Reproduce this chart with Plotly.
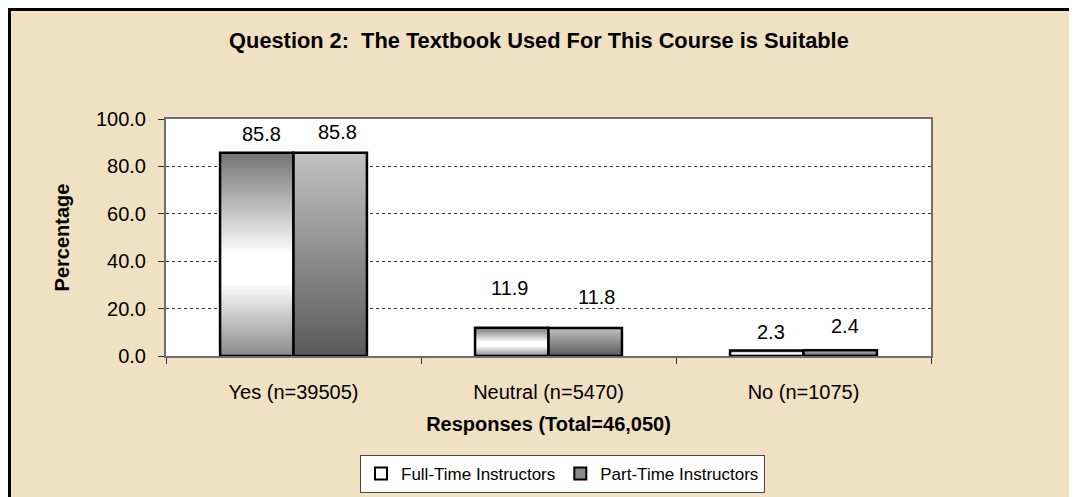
import plotly.graph_objects as go

categories = ["Yes (n=39505)", "Neutral (n=5470)", "No (n=1075)"]
full_time = [85.8, 11.9, 2.3]
part_time = [85.8, 11.8, 2.4]
series_names = ["Full-Time Instructors", "Part-Time Instructors"]
y_ticks = [0, 20, 40, 60, 80, 100]

FONT = "Arial, Liberation Sans, sans-serif"
BG = "#f0e1c3"
BAR_W = 0.288
FT_SCALE = [[0, "#8a8a8a"], [0.36, "#ffffff"], [0.5, "#ffffff"], [1, "#737373"]]
PT_SCALE = [[0, "#5a5a5a"], [1, "#c2c2c2"]]

# label nudges (px) so the value labels sit where the original put them
ft_shift = [(5, 19), (-2, 40), (4, 19)]
pt_shift = [(7, 21), (11, 31), (5, 24)]

fig = go.Figure()


def add_bar(i, v, left, scale):
    x0 = i - BAR_W if left else i
    x1 = i if left else i + BAR_W
    fig.add_trace(go.Scatter(
        x=[x0, x0, x1, x1, x0], y=[0, v, v, 0, 0],
        mode="lines", fill="toself",
        fillgradient=dict(type="vertical", colorscale=scale),
        line=dict(color="black", width=2.5),
        showlegend=False, hoverinfo="skip"))


for i, (a, b) in enumerate(zip(full_time, part_time)):
    add_bar(i, a, True, FT_SCALE)
    add_bar(i, b, False, PT_SCALE)

# legend-only entries
for name, col in zip(series_names, ["white", "#8c8c8c"]):
    fig.add_trace(go.Bar(x=[None], y=[None], name=name, marker_color=col,
                         marker_line=dict(color="black", width=2)))

annotations = []
for i, v in enumerate(full_time):
    annotations.append(dict(x=i - BAR_W / 2, y=v, text=f"{v:.1f}", showarrow=False,
                            yanchor="middle", xshift=ft_shift[i][0], yshift=ft_shift[i][1],
                            font=dict(size=20, color="black", family=FONT)))
for i, v in enumerate(part_time):
    annotations.append(dict(x=i + BAR_W / 2, y=v, text=f"{v:.1f}", showarrow=False,
                            yanchor="middle", xshift=pt_shift[i][0], yshift=pt_shift[i][1],
                            font=dict(size=20, color="black", family=FONT)))

# page keeps its 8px white body margin top/left, like the white strip in the original
fig.update_layout(
    width=1077, height=497,
    margin=dict(l=158, r=154, t=111, b=149, autoexpand=False),
    paper_bgcolor=BG,
    plot_bgcolor="white",
    font=dict(family=FONT, size=20, color="black"),
    title=dict(text="<b>Question 2:  The Textbook Used For This Course is Suitable</b>",
               x=0.493, xanchor="center", y=0.9356, yanchor="middle",
               font=dict(size=21.8, family=FONT, color="black")),
    showlegend=True,
    legend=dict(orientation="h", x=0.2536, xanchor="left", y=-0.4177, yanchor="top",
                bgcolor="white", bordercolor="#444", borderwidth=1,
                font=dict(size=17, family=FONT, color="black"),
                itemwidth=30),
    annotations=annotations,
    shapes=[
        dict(type="line", xref="paper", yref="paper",
             x0=-0.2066, x1=1.3, y0=1.462, y1=1.462,
             line=dict(color="black", width=3), layer="above"),
        dict(type="line", xref="paper", yref="paper",
             x0=-0.2046, x1=-0.2046, y0=-0.7, y1=1.468,
             line=dict(color="black", width=3), layer="above"),
    ],
)

fig.update_xaxes(
    range=[-0.5, 2.5], tickvals=[0, 1, 2], ticktext=categories,
    ticks="", ticklabelstandoff=17, automargin=False,
    minor=dict(tickvals=[-0.5, 0.5, 1.5, 2.5], ticks="outside", ticklen=6,
               tickcolor="#333", tickwidth=1),
    showgrid=False, zeroline=False,
    showline=True, linecolor="#6e6e6e", linewidth=2, mirror=True,
    title=dict(text="<b>Responses (Total=46,050)</b>", standoff=15,
               font=dict(size=20, family=FONT)),
)
fig.update_yaxes(
    range=[0, 100], tickvals=y_ticks, tickformat=".1f",
    ticks="outside", ticklen=6, tickcolor="#333",
    ticklabelstandoff=8, automargin=False,
    showgrid=True, gridcolor="#333", gridwidth=1, griddash="dot",
    zeroline=False,
    showline=True, linecolor="#6e6e6e", linewidth=2, mirror=True,
    title=dict(text="<b>Percentage</b>", standoff=21,
               font=dict(size=20, family=FONT)),
)

fig.write_html("out.html", config={"displayModeBar": False},
               post_script="document.body.style.overflow='hidden';")
